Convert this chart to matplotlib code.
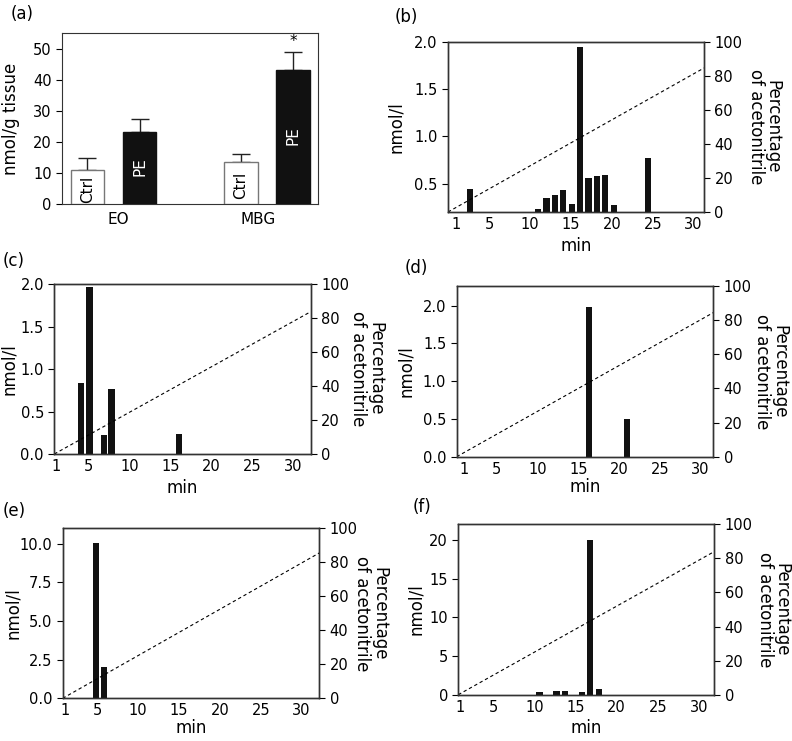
import matplotlib
matplotlib.use("Agg")
import matplotlib.pyplot as plt

plt.rcParams['font.family'] = ['DejaVu Sans']

# ---------------- data ----------------
# Panel (a)
groups = ["EO", "MBG"]
ctrl_mean = [10.86, 13.5]
ctrl_err = [4.0, 2.7]
pe_mean = [23.1, 43.1]
pe_err = [4.1, 5.8]

# Panels (b)-(f): fraction time (min) and concentration (nmol/l)
b_time = [2.68, 11.0, 12.04, 13.06, 14.05, 15.1, 16.16, 17.17, 18.19, 19.19, 20.27, 24.46]
b_conc = [0.447, 0.23, 0.348, 0.383, 0.436, 0.285, 1.95, 0.56, 0.577, 0.595, 0.27, 0.768]

c_time = [4.1, 5.1, 6.85, 7.8, 16.1]
c_conc = [0.83, 1.96, 0.22, 0.77, 0.235]

d_time = [16.3, 20.95]
d_conc = [1.98, 0.5]

e_time = [4.86, 5.8]
e_conc = [10.05, 2.05]

f_time = [10.63, 12.7, 13.7, 15.8, 16.77, 17.86]
f_conc = [0.3, 0.43, 0.47, 0.34, 20.0, 0.69]

# acetonitrile gradient (%) start / end over the run
gradient_start = 0
gradient_end = [84.7, 83.7, 84.4, 85.5, 84.0]

min_ticks = [1, 5, 10, 15, 20, 25, 30]
pct_ticks = [0, 20, 40, 60, 80, 100]

# ---------------- figure ----------------
W, H = 792, 741
fig = plt.figure(figsize=(W / 100, H / 100), dpi=100)


def box(l, t, r, b):
    return [l / W, 1 - b / H, (r - l) / W, (b - t) / H]


TICK = 10.5
LAB = 12

# ---- panel (a) ----
axa = fig.add_axes(box(62, 33, 318, 204))
x_ctrl = [0, 2.95]
x_pe = [1, 3.95]
bw = 0.65
axa.bar(x_ctrl, ctrl_mean, width=bw, color='white', edgecolor='#777777', linewidth=1.0, zorder=3)
axa.bar(x_pe, pe_mean, width=bw, color='#111111', edgecolor='#111111', linewidth=1.0, zorder=3)
axa.errorbar(x_ctrl, ctrl_mean, yerr=[[0, 0], ctrl_err], fmt='none', ecolor='#222222',
             elinewidth=1.0, capsize=6.5, capthick=1.0, zorder=2)
axa.errorbar(x_pe, pe_mean, yerr=[[0, 0], pe_err], fmt='none', ecolor='#222222',
             elinewidth=1.0, capsize=6.5, capthick=1.0, zorder=2)
for x, m in zip(x_ctrl, ctrl_mean):
    axa.text(x, m / 2 - 0.6, "Ctrl", rotation=90, ha='center', va='center', fontsize=TICK + 0.5, zorder=4)
for x, m in zip(x_pe, pe_mean):
    axa.text(x, m / 2 + 0.5, "PE", rotation=90, ha='center', va='center', fontsize=TICK + 0.5,
             color='white', zorder=4)
axa.text(x_pe[1], pe_mean[1] + pe_err[1] + 0.8, "*", ha='center', va='bottom', fontsize=TICK + 0.5)
axa.set_xlim(-0.49, 4.43)
axa.set_ylim(0, 55)
axa.set_yticks([0, 10, 20, 30, 40, 50])
axa.set_xticks([0.59, 3.28])
axa.set_xticklabels(groups)
axa.tick_params(axis='x', length=0, pad=6, labelsize=TICK + 0.5)
axa.tick_params(axis='y', direction='out', length=4, labelsize=TICK)
axa.set_ylabel("nmol/g tissue", fontsize=LAB)
axa.yaxis.set_label_coords(-0.165, 0.5)
for s in axa.spines.values():
    s.set_color('#333333')
fig.text(11 / W, 1 - 14 / H, "(a)", fontsize=LAB, ha='left', va='center')

# ---- chromatogram panels ----
panels = [
    dict(tag="(b)", t=b_time, c=b_conc, rect=(448, 42, 704, 212), xlim=(0, 31.26), ylim=(0.2, 2.0),
         yticks=[0.5, 1.0, 1.5, 2.0], fmt="{:.1f}", tagpos=(395, 17), ylx=-0.168, yrx=1.235, minpad=34),
    dict(tag="(c)", t=c_time, c=c_conc, rect=(54.3, 284, 310.7, 454), xlim=(0.8, 32.2), ylim=(0, 2.0),
         yticks=[0, 0.5, 1.0, 1.5, 2.0], fmt="{:.1f}", tagpos=(3, 261), ylx=-0.14, yrx=1.22, minpad=34),
    dict(tag="(d)", t=d_time, c=d_conc, rect=(456.7, 286, 713.3, 456.7), xlim=(0.1, 31.55), ylim=(0, 2.26),
         yticks=[0, 0.5, 1.0, 1.5, 2.0], fmt="{:.1f}", tagpos=(405, 268), ylx=-0.163, yrx=1.225, minpad=30),
    dict(tag="(e)", t=e_time, c=e_conc, rect=(62.7, 528.3, 319.3, 698.3), xlim=(0.76, 32.16), ylim=(0, 11),
         yticks=[0, 2.5, 5.0, 7.5, 10.0], fmt="{:.1f}", tagpos=(3, 511), ylx=-0.159, yrx=1.2, minpad=30),
    dict(tag="(f)", t=f_time, c=f_conc, rect=(458.3, 524.3, 714.3, 694.7), xlim=(0.75, 31.87), ylim=(0, 22),
         yticks=[0, 5, 10, 15, 20], fmt="{:.0f}", tagpos=(413, 507), ylx=-0.13, yrx=1.23, minpad=33),
]

for p, gend in zip(panels, gradient_end):
    ax = fig.add_axes(box(*p['rect']))
    ax.bar(p['t'], p['c'], width=0.76, color='#111111', edgecolor='none', zorder=3)
    ax.set_xlim(*p['xlim'])
    ax.set_ylim(*p['ylim'])
    ax.set_xticks(min_ticks)
    ax.set_yticks(p['yticks'])
    ax.set_yticklabels([p['fmt'].format(v) for v in p['yticks']])
    ax.tick_params(axis='x', length=0, pad=3.5, labelsize=TICK)
    ax.tick_params(axis='y', direction='out', length=4, labelsize=TICK)
    ax.set_ylabel("nmol/l", fontsize=LAB)
    ax.yaxis.set_label_coords(p['ylx'], 0.5)
    ax.set_xlabel("min", fontsize=LAB)
    h = p['rect'][3] - p['rect'][1]
    ax.xaxis.set_label_coords(0.5, -p['minpad'] / h)
    ax.xaxis.label.set_va('center')
    for s in ax.spines.values():
        s.set_color('#333333')
        s.set_linewidth(1.0)

    ax2 = ax.twinx()
    ax2.plot(p['xlim'], [gradient_start, gend], linestyle=(0, (3, 2.5)), color='black', linewidth=0.8)
    ax2.set_ylim(0, 100)
    ax2.set_yticks(pct_ticks)
    ax2.tick_params(axis='y', direction='out', length=4, labelsize=TICK)
    ax2.set_ylabel("Percentage\nof acetonitrile", fontsize=LAB, rotation=270, linespacing=0.95)
    ax2.yaxis.set_label_coords(p['yrx'], 0.5)
    ax2.yaxis.label.set_va('center')
    for s in ax2.spines.values():
        s.set_color('#333333')
        s.set_linewidth(1.0)

    fig.text(p['tagpos'][0] / W, 1 - p['tagpos'][1] / H, p['tag'], fontsize=LAB, ha='left', va='center')

fig.savefig("out.png", dpi=100)
